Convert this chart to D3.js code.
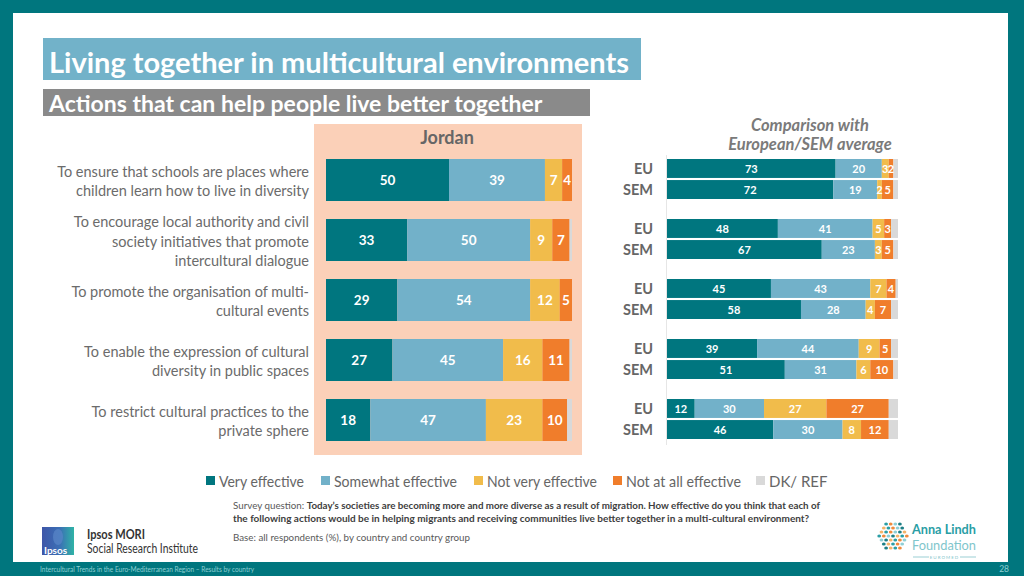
<!DOCTYPE html>
<html>
<head>
<meta charset="utf-8">
<script src="https://cdn.jsdelivr.net/npm/d3@7"></script>
<style>
  body { margin: 0; background: #fff; }
  svg { display: block; font-family: Lato, "Open Sans", sans-serif; }
</style>
</head>
<body>
<div class="chart"></div>
<script>
const W = 1024, H = 576;

// ---- data ----
const categories = [
  ["To ensure that schools are places where", "children learn how to live in diversity"],
  ["To encourage local authority and civil", "society initiatives that promote", "intercultural dialogue"],
  ["To promote the organisation of multi-", "cultural events"],
  ["To enable the expression of cultural", "diversity in public spaces"],
  ["To restrict cultural practices to the", "private sphere"]
];
const seriesNames = ["Very effective", "Somewhat effective", "Not very effective", "Not at all effective", "DK/ REF"];
const seriesColors = ["#00767f", "#72b1c9", "#f1bc4b", "#f07d2b", "#d9d9d9"];

const jordan = [[50, 39, 7, 4, 0], [33, 50, 9, 7, 1], [29, 54, 12, 5, 0], [27, 45, 16, 11, 1], [18, 47, 23, 10, 2]];
const eu     = [[73, 20, 3, 2, 2], [48, 41, 5, 3, 3], [45, 43, 7, 4, 1], [39, 44, 9, 5, 3], [12, 30, 27, 27, 4]];
const sem    = [[72, 19, 2, 5, 2], [67, 23, 3, 5, 2], [58, 28, 4, 7, 3], [51, 31, 6, 10, 2], [46, 30, 8, 12, 4]];
const groups = ["EU", "SEM"];

const teal = "#00767e";

var svg = d3.select('.chart')
            .append('svg')
            .attr("width", W)
            .attr("height", H);

// squeeze a text into w pixels (slide font is narrower than what we have)
function fit(sel, w) {
    sel.each(function() {
        if (this.getComputedTextLength() > w)
            d3.select(this).attr("textLength", w).attr("lengthAdjust", "spacingAndGlyphs");
    });
}

// frame
svg.append("rect").attr("width", W).attr("height", H).attr("fill", teal);
svg.append("rect").attr("x", 13).attr("y", 13).attr("width", 995).attr("height", 549).attr("fill", "#fff");

// titles
svg.append("rect").attr("x", 43).attr("y", 38).attr("width", 598).attr("height", 42).attr("fill", "#72b2c9");
svg.append("text").attr("x", 49).attr("y", 61).attr("dominant-baseline", "central")
   .attr("font-size", 29).attr("font-weight", "bold").attr("fill", "#fff")
   .text("Living together in multicultural environments").call(fit, 581);

svg.append("rect").attr("x", 43).attr("y", 89).attr("width", 547).attr("height", 27).attr("fill", "#8a8a8a");
svg.append("text").attr("x", 49).attr("y", 103).attr("dominant-baseline", "central")
   .attr("font-size", 23).attr("font-weight", "bold").attr("fill", "#fff")
   .text("Actions that can help people live better together").call(fit, 530);

// ---- Jordan panel ----
svg.append("rect").attr("x", 314).attr("y", 124).attr("width", 268).attr("height", 331).attr("fill", "#fbd0b8");
svg.append("text").attr("x", 447).attr("y", 137).attr("dominant-baseline", "central")
   .attr("text-anchor", "middle").attr("font-size", 18).attr("font-weight", "bold").attr("fill", "#666")
   .text("Jordan");

var y = d3.scaleBand()
          .domain(d3.range(categories.length))
          .range([150, 450])
          .paddingInner(0.3)
          .paddingOuter(0.15);

var xJ = d3.scaleLinear().domain([0, 100]).range([326, 572]);
var xC = d3.scaleLinear().domain([0, 100]).range([667, 898]);

var sub = d3.scaleBand().domain(groups).range([0, 40]).paddingInner(0.1);

function segments(row) {
    const ends = d3.cumsum(row);
    return row.map((v, k) => ({k: k, v: v, x0: ends[k] - v, x1: ends[k]}));
}

// category labels
categories.forEach((lines, i) => {
    const c = y(i) + y.bandwidth() / 2 + 1;
    const lh = 19.3;
    lines.forEach((t, j) => {
        svg.append("text")
           .attr("x", 309)
           .attr("y", c + (j - (lines.length - 1) / 2) * lh)
           .attr("dominant-baseline", "central")
           .attr("text-anchor", "end")
           .attr("font-size", 14.5)
           .attr("fill", "#6b6b6b")
           .text(t);
    });
});

var jg = svg.append("g");
jordan.forEach((row, i) => {
    const segs = segments(row);
    jg.selectAll(null).data(segs).enter().append("rect")
      .attr("x", d => xJ(d.x0))
      .attr("y", y(i))
      .attr("width", d => xJ(d.x1) - xJ(d.x0))
      .attr("height", y.bandwidth())
      .attr("fill", d => seriesColors[d.k]);
    jg.selectAll(null).data(segs.filter(d => d.k < 4 && d.v > 0)).enter().append("text")
      .attr("x", d => (xJ(d.x0) + xJ(d.x1)) / 2)
      .attr("y", y(i) + y.bandwidth() / 2)
      .attr("dominant-baseline", "central")
      .attr("text-anchor", "middle")
      .attr("font-size", 13.5)
      .attr("font-weight", "bold")
      .attr("fill", "#fff")
      .text(d => d.v);
});

// ---- comparison panel ----
svg.append("text").attr("x", 810).attr("y", 125).attr("dominant-baseline", "central")
   .attr("text-anchor", "middle").attr("font-size", 16.5).attr("font-weight", "bold")
   .attr("font-style", "italic").attr("fill", "#7a7a7a").text("Comparison with");
svg.append("text").attr("x", 810).attr("y", 144).attr("dominant-baseline", "central")
   .attr("text-anchor", "middle").attr("font-size", 16.5).attr("font-weight", "bold")
   .attr("font-style", "italic").attr("fill", "#7a7a7a").text("European/SEM average");

svg.append("line").attr("x1", xC(0) - 0.5).attr("x2", xC(0) - 0.5)
   .attr("y1", 155).attr("y2", 445).attr("stroke", "#e6e6e6");

var cg = svg.append("g");
[eu, sem].forEach((data, gi) => {
    const gname = groups[gi];
    data.forEach((row, i) => {
        const yy = y(i) + sub(gname);
        const segs = segments(row);
        cg.selectAll(null).data(segs).enter().append("rect")
          .attr("x", d => xC(d.x0))
          .attr("y", yy)
          .attr("width", d => xC(d.x1) - xC(d.x0))
          .attr("height", sub.bandwidth())
          .attr("fill", d => seriesColors[d.k]);
        cg.selectAll(null).data(segs.filter(d => d.k < 4 && d.v > 0)).enter().append("text")
          .attr("x", d => (xC(d.x0) + xC(d.x1)) / 2)
          .attr("y", yy + sub.bandwidth() / 2)
          .attr("dominant-baseline", "central")
          .attr("text-anchor", "middle")
          .attr("font-size", 11)
          .attr("font-weight", "bold")
          .attr("fill", "#fff")
          .text(d => d.v);
        cg.append("text")
          .attr("x", 653)
          .attr("y", yy + sub.bandwidth() / 2)
          .attr("dominant-baseline", "central")
          .attr("text-anchor", "end")
          .attr("font-size", 14.5)
          .attr("font-weight", "bold")
          .attr("fill", "#666")
          .text(gname);
    });
});

// ---- legend ----
const legendX = [206, 321, 474, 613, 756];
var lg = svg.append("g");
seriesNames.forEach((s, k) => {
    lg.append("rect").attr("x", legendX[k]).attr("y", 476).attr("width", 9).attr("height", 9)
      .attr("fill", seriesColors[k]);
    lg.append("text").attr("x", legendX[k] + 13).attr("y", 481).attr("dominant-baseline", "central")
      .attr("font-size", 15).attr("fill", "#666").text(s).call(fit, [85, 123, 110, 115, 78][k]);
});

// ---- notes ----
var n1 = svg.append("text").attr("x", 233).attr("y", 505).attr("dominant-baseline", "central")
            .attr("font-size", 10).attr("fill", "#595959");
n1.append("tspan").text("Survey question: ");
n1.append("tspan").attr("font-weight", "bold").attr("fill", "#404040")
  .text("Today’s societies are becoming more and more diverse as a result of migration. How effective do you think that each of");
n1.call(fit, 587);
svg.append("text").attr("x", 233).attr("y", 518).attr("dominant-baseline", "central")
   .attr("font-size", 10).attr("font-weight", "bold").attr("fill", "#404040")
   .text("the following actions would be in helping migrants and receiving communities live better together in a multi-cultural environment?")
   .call(fit, 597);
svg.append("text").attr("x", 233).attr("y", 537).attr("dominant-baseline", "central")
   .attr("font-size", 10).attr("fill", "#595959")
   .text("Base: all respondents (%), by country and country group").call(fit, 237);

// ---- Ipsos logo ----
var grad = svg.append("defs").append("linearGradient").attr("id", "ipg")
              .attr("x1", "0").attr("x2", "1").attr("y1", "0").attr("y2", "0");
grad.append("stop").attr("offset", "0").attr("stop-color", "#3e56a8");
grad.append("stop").attr("offset", "0.55").attr("stop-color", "#3b6fb5");
grad.append("stop").attr("offset", "1").attr("stop-color", "#2fb3a6");
svg.append("rect").attr("x", 42).attr("y", 527).attr("width", 32).attr("height", 28).attr("fill", "url(#ipg)");
svg.append("ellipse").attr("cx", 58).attr("cy", 537).attr("rx", 5).attr("ry", 8).attr("fill", "#5a86c8").attr("opacity", 0.7);
svg.append("text").attr("x", 44).attr("y", 550).attr("dominant-baseline", "central")
   .attr("font-size", 10).attr("font-weight", "bold").attr("fill", "#fff").text("Ipsos");
svg.append("text").attr("x", 87).attr("y", 534).attr("dominant-baseline", "central")
   .attr("font-size", 12.5).attr("font-weight", "bold").attr("fill", "#333").text("Ipsos MORI").call(fit, 58);
svg.append("text").attr("x", 87).attr("y", 548).attr("dominant-baseline", "central")
   .attr("font-size", 12.5).attr("fill", "#333").text("Social Research Institute").call(fit, 111);

// ---- Anna Lindh logo ----
const dotColors = ["#2a9ea5", "#f08a3c", "#8fcfd6", "#1c7f86", "#f4b46a"];
var dots = svg.append("g");
let di = 0;
for (let gy = -3; gy <= 3; gy++) {
    for (let gx = -3; gx <= 3; gx++) {
        const dx = gx * 4.6 + (gy % 2 ? 2.3 : 0), dy = gy * 4;
        if (dx * dx + dy * dy > 15 * 15) continue;
        dots.append("ellipse").attr("cx", 893 + dx).attr("cy", 536 + dy)
            .attr("rx", 1.9).attr("ry", 1.5).attr("fill", dotColors[di++ % dotColors.length]);
    }
}
svg.append("text").attr("x", 912).attr("y", 529).attr("dominant-baseline", "central")
   .attr("font-size", 13).attr("font-weight", "bold").attr("fill", "#2a9ea5").text("Anna Lindh").call(fit, 64);
svg.append("text").attr("x", 912).attr("y", 545).attr("dominant-baseline", "central")
   .attr("font-size", 13).attr("fill", "#7fc6cc").text("Foundation").call(fit, 64);
svg.append("line").attr("x1", 913).attr("x2", 929).attr("y1", 557).attr("y2", 557).attr("stroke", "#9bcfd4");
svg.append("line").attr("x1", 960).attr("x2", 976).attr("y1", 557).attr("y2", 557).attr("stroke", "#9bcfd4");
svg.append("text").attr("x", 944.5).attr("y", 557).attr("dominant-baseline", "central").attr("text-anchor", "middle")
   .attr("font-size", 4.5).attr("letter-spacing", 1).attr("fill", "#7fc6cc").text("EUROMED");

// ---- footer ----
svg.append("text").attr("x", 40).attr("y", 569).attr("dominant-baseline", "central")
   .attr("font-size", 7.5).attr("fill", "#8fcfd3")
   .text("Intercultural Trends in the Euro-Mediterranean Region – Results by country").call(fit, 214);
svg.append("text").attr("x", 1009).attr("y", 569).attr("dominant-baseline", "central").attr("text-anchor", "end")
   .attr("font-size", 8.5).attr("fill", "#8fcfd3").text("28");
</script>
</body>
</html>
